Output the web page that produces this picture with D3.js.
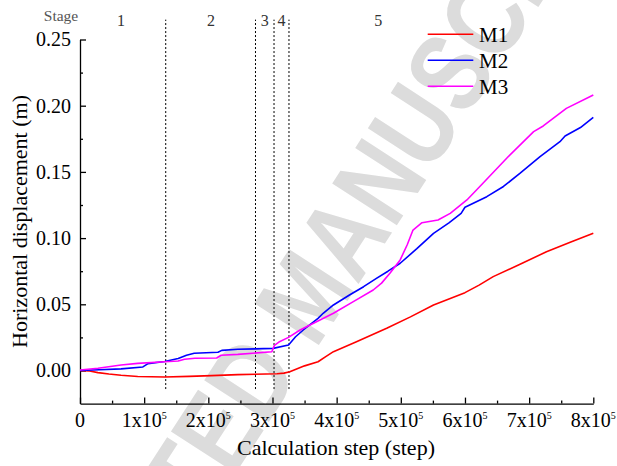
<!DOCTYPE html>
<html>
<head>
<meta charset="utf-8">
<script src="https://cdn.jsdelivr.net/npm/d3@7"></script>
<style>
  html, body { margin: 0; padding: 0; background: #fff; }
  svg { display: block; }
  text { font-family: "Liberation Serif", "Times New Roman", serif; }
</style>
</head>
<body>
<svg id="chart" width="617" height="466"></svg>
<script>
// Horizontal displacement (m) versus calculation step for monitoring points M1–M3
const seriesNames = ["M1", "M2", "M3"];
const seriesColors = ["#ff0000", "#0000ff", "#ff00ff"];

const m1 = [[0,0],[15000,-0.0004],[28000,-0.0016],[45000,-0.0027],[64000,-0.0036],[90000,-0.0045],
  [132000,-0.0049],[170000,-0.0044],[205000,-0.0039],[246000,-0.0031],[290000,-0.0027],[307000,-0.0025],
  [318000,-0.0020],[327000,-0.0009],[350000,0.0035],[371000,0.0066],[383000,0.0105],[395000,0.0142],
  [430000,0.0215],[478000,0.0319],[515000,0.0405],[551000,0.0495],[600000,0.0588],[622000,0.0645],
  [644000,0.0709],[685000,0.0800],[727000,0.0897],[765000,0.0970],[800000,0.1036]];

const m2 = [[0,0],[30000,0.0006],[64000,0.0012],[98000,0.0027],[106000,0.0052],[132000,0.0068],
  [153000,0.009],[166000,0.0115],[178000,0.013],[215000,0.0138],[221000,0.0152],[246000,0.016],
  [301000,0.0167],[325000,0.0193],[336000,0.0255],[348000,0.0306],[362000,0.036],[371000,0.0394],
  [379000,0.0432],[395000,0.0495],[420000,0.057],[442000,0.0633],[462000,0.0696],[480000,0.075],
  [499000,0.081],[525000,0.092],[551000,0.1036],[575000,0.1115],[594000,0.1187],[600000,0.1233],
  [634000,0.1313],[660000,0.139],[686000,0.149],[717000,0.1615],[748000,0.1728],[756000,0.1771],
  [780000,0.1835],[800000,0.1912]];

const m3 = [[0,0.0004],[28000,0.0017],[64000,0.0042],[90000,0.0054],[132000,0.0066],[153000,0.0072],
  [163000,0.0085],[179000,0.0092],[213000,0.0094],[220000,0.0115],[246000,0.0122],[299000,0.0142],
  [303000,0.019],[310000,0.0215],[325000,0.025],[343000,0.0306],[374000,0.0381],[395000,0.0432],
  [426000,0.052],[457000,0.0608],[470000,0.066],[483000,0.0734],[499000,0.0835],[510000,0.095],
  [519000,0.1061],[533000,0.1116],[558000,0.1137],[577000,0.1187],[603000,0.1288],[628000,0.1414],
  [665000,0.1603],[707000,0.1804],[722000,0.1847],[758000,0.198],[800000,0.2081]];

// Stage boundaries (dotted lines) and stage label positions, in calculation steps
const stageBounds = [133600, 273500, 302400, 325700];
const stageLabels = ["1", "2", "3", "4", "5"];
const stageLabelSteps = [64000, 204000, 288000, 314000, 465000];

// Axis ticks
const xTicks = [0, 100000, 200000, 300000, 400000, 500000, 600000, 700000, 800000];
const xMinor = [50000, 150000, 250000, 350000, 450000, 550000, 650000, 750000];
const yTicks = [0, 0.05, 0.10, 0.15, 0.20, 0.25];
const yMinor = [0.025, 0.075, 0.125, 0.175, 0.225];

const serif = "'Liberation Serif', 'Times New Roman', serif";
const svg = d3.select("#chart");

// Background watermark
svg.append("text")
  .attr("transform", "translate(304,294) rotate(-57) scale(0.82,1)")
  .attr("text-anchor", "middle")
  .attr("dy", "0.36em")
  .style("font-family", "'Liberation Sans', Arial, sans-serif")
  .style("font-weight", "bold")
  .style("font-size", "112px")
  .attr("fill", "#dcdcdc")
  .text("ACCEPTED MANUSCRIPT");

const x = d3.scaleLinear().domain([0, 800000]).range([80, 593.3]);
const y = d3.scaleLinear().domain([-0.025, 0.25]).range([403.6, 39.5]);

// X axis (ticks pointing inward)
const gx = svg.append("g").attr("transform", `translate(0,${y(-0.025)})`);
gx.call(d3.axisBottom(x).tickValues(xTicks).tickSizeInner(-6).tickSizeOuter(0).tickPadding(10)
  .tickFormat(() => ""));
gx.append("g").call(d3.axisBottom(x).tickValues(xMinor).tickSizeInner(-3).tickSizeOuter(0).tickFormat(() => ""))
  .select(".domain").remove();
gx.selectAll("path.domain, line").attr("stroke", "#000").attr("stroke-width", 1.3);

// X tick labels with superscript exponent
xTicks.forEach(v => {
  const t = svg.append("text")
    .attr("x", x(v)).attr("y", 427)
    .attr("text-anchor", "middle")
    .style("font-family", serif)
    .style("font-size", "20px")
    .attr("fill", "#000");
  if (v === 0) {
    t.text("0");
  } else {
    t.append("tspan").text(`${v / 100000}x10`);
    t.append("tspan").attr("dy", -8).style("font-size", "10px").text("5");
  }
});

// Y axis (ticks pointing inward)
const gy = svg.append("g").attr("transform", `translate(${x(0)},0)`);
gy.call(d3.axisLeft(y).tickValues(yTicks).tickSizeInner(-6).tickSizeOuter(0).tickPadding(9)
  .tickFormat(d3.format(".2f")));
gy.append("g").call(d3.axisLeft(y).tickValues(yMinor).tickSizeInner(-3).tickSizeOuter(0).tickFormat(() => ""))
  .select(".domain").remove();
gy.selectAll("path.domain, line").attr("stroke", "#000").attr("stroke-width", 1.3);
gy.selectAll("text")
  .style("font-family", serif)
  .style("font-size", "20px")
  .attr("fill", "#000");

// Stage boundaries
svg.append("g").selectAll("line").data(stageBounds).join("line")
  .attr("x1", d => x(d)).attr("x2", d => x(d))
  .attr("y1", y(-0.014)).attr("y2", y(0.265))
  .attr("stroke", "#000").attr("stroke-width", 1)
  .attr("stroke-dasharray", "2,2");

// Stage labels
svg.append("text").attr("x", 61).attr("y", 21).attr("text-anchor", "middle")
  .style("font-family", serif)
  .style("font-size", "15.5px").attr("fill", "#555").text("Stage");
svg.append("g").selectAll("text").data(stageLabels).join("text")
  .attr("x", (d, i) => x(stageLabelSteps[i])).attr("y", 26)
  .attr("text-anchor", "middle")
  .style("font-family", serif)
  .style("font-size", "16px").attr("fill", "#333")
  .text(d => d);

// Curves
const line = d3.line().x(d => x(d[0])).y(d => y(d[1]));
[m1, m2, m3].forEach((s, i) => {
  svg.append("path").datum(s)
    .attr("d", line)
    .attr("fill", "none")
    .attr("stroke", seriesColors[i])
    .attr("stroke-width", 1.6)
    .attr("stroke-linejoin", "round");
});

// Legend
const lg = svg.append("g");
seriesNames.forEach((name, i) => {
  const yy = 34.3 + i * 26;
  lg.append("line").attr("x1", 427.7).attr("x2", 473.3).attr("y1", yy).attr("y2", yy)
    .attr("stroke", seriesColors[i]).attr("stroke-width", 1.6);
  lg.append("text").attr("x", 479).attr("y", yy + 7.5)
    .style("font-family", serif)
    .style("font-size", "21px").attr("fill", "#000").text(name);
});

// Axis titles
svg.append("text").attr("x", 336).attr("y", 455).attr("text-anchor", "middle")
  .style("font-family", serif)
  .style("font-size", "22px").attr("fill", "#000").text("Calculation step (step)");
svg.append("text").attr("transform", "translate(27,221.5) rotate(-90)").attr("text-anchor", "middle")
  .style("font-family", serif)
  .style("font-size", "22px").attr("fill", "#000").text("Horizontal displacement (m)");
</script>
</body>
</html>
